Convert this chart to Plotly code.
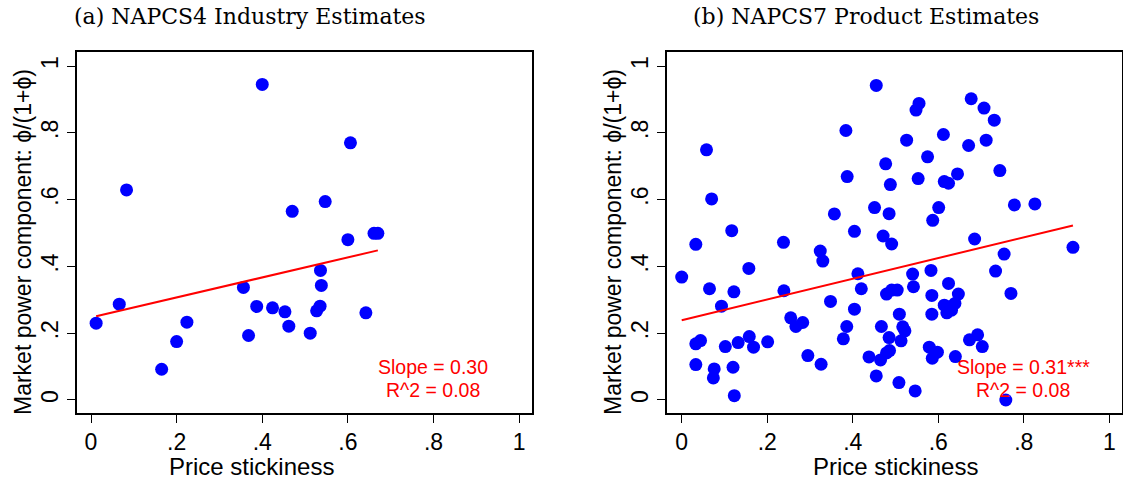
import plotly.graph_objects as go

# ---------------- data ----------------
# (a) NAPCS4 industry estimates
a_x = [0.012, 0.066, 0.083, 0.165, 0.200, 0.224, 0.356, 0.368, 0.387, 0.400,
       0.424, 0.453, 0.462, 0.470, 0.512, 0.536, 0.538, 0.535, 0.527, 0.642,
       0.600, 0.661, 0.670, 0.606, 0.547]
a_y = [0.230, 0.287, 0.629, 0.092, 0.175, 0.233, 0.337, 0.193, 0.280, 0.945,
       0.276, 0.264, 0.221, 0.565, 0.200, 0.388, 0.343, 0.281, 0.267, 0.261,
       0.480, 0.499, 0.499, 0.770, 0.594]
a_fit = {"intercept": 0.247, "slope": 0.30}
a_label = ["Slope = 0.30", "R^2 = 0.08"]

# (b) NAPCS7 product estimates
b_x = [0.455, 0.384, 0.058, 0.477, 0.387, 0.488, 0.070, 0.451, 0.357, 0.485,
       0.117, 0.404, 0.471, 0.033, 0.238,
       0.324, 0.330, 0.000, 0.157, 0.065, 0.122, 0.239, 0.093, 0.412, 0.420,
       0.348, 0.404, 0.479, 0.255, 0.267, 0.283, 0.386, 0.378, 0.467, 0.485,
       0.033, 0.044, 0.102, 0.132, 0.158, 0.168, 0.201, 0.033, 0.076, 0.074,
       0.120, 0.123, 0.295, 0.326, 0.438, 0.465, 0.455, 0.479,
       0.555, 0.548, 0.677, 0.707, 0.731, 0.526, 0.612, 0.671, 0.712, 0.575,
       0.553, 0.614, 0.624, 0.645, 0.744, 0.601, 0.587, 0.778, 0.826, 0.491,
       0.685, 0.915,
       0.754, 0.734, 0.540, 0.583, 0.542, 0.624, 0.491, 0.504, 0.585, 0.647,
       0.770, 0.614, 0.627, 0.639, 0.620, 0.631, 0.585, 0.509, 0.517, 0.522,
       0.513, 0.486, 0.673, 0.692, 0.703, 0.579, 0.598, 0.586, 0.640, 0.508,
       0.546, 0.758]
b_y = [0.942, 0.807, 0.749, 0.707, 0.669, 0.645, 0.602, 0.576, 0.557, 0.558,
       0.507, 0.505, 0.491, 0.466, 0.472,
       0.446, 0.416, 0.368, 0.394, 0.333, 0.324, 0.327, 0.281, 0.378, 0.333,
       0.295, 0.272, 0.317, 0.246, 0.220, 0.232, 0.220, 0.183, 0.220, 0.187,
       0.168, 0.178, 0.160, 0.172, 0.190, 0.158, 0.174, 0.106, 0.093, 0.066,
       0.098, 0.013, 0.133, 0.107, 0.129, 0.120, 0.072, 0.141,
       0.888, 0.868, 0.902, 0.874, 0.838, 0.778, 0.795, 0.762, 0.778, 0.728,
       0.663, 0.654, 0.649, 0.677, 0.687, 0.576, 0.538, 0.584, 0.587, 0.467,
       0.482, 0.457,
       0.437, 0.386, 0.377, 0.388, 0.339, 0.349, 0.329, 0.329, 0.313, 0.317,
       0.319, 0.284, 0.279, 0.289, 0.261, 0.269, 0.257, 0.257, 0.219, 0.207,
       0.177, 0.148, 0.180, 0.195, 0.160, 0.158, 0.143, 0.125, 0.130, 0.052,
       0.027, 0.000]
b_fit = {"intercept": 0.239, "slope": 0.31}
b_label = ["Slope = 0.31***", "R^2 = 0.08"]

titles = ["(a) NAPCS4 Industry Estimates", "(b) NAPCS7 Product Estimates"]
x_title = "Price stickiness"
y_title = "Market power component: \u03d5/(1+\u03d5)"
tick_vals = [0, 0.2, 0.4, 0.6, 0.8, 1]
tick_text = ["0", ".2", ".4", ".6", ".8", "1"]

# ---------------- figure ----------------
W, H = 1123, 481
BLUE = "#0000FF"
RED = "#FF0000"
SANS = "Liberation Sans, Arial, sans-serif"


def px_x(p):
    return p / W


def px_y(p):
    return 1 - p / H


fig = go.Figure()

panels = [
    (a_x, a_y, a_fit, "x", "y"),
    (b_x, b_y, b_fit, "x2", "y2"),
]
for xs, ys, fit, xa, ya in panels:
    fig.add_trace(go.Scatter(
        x=xs, y=ys, mode="markers", xaxis=xa, yaxis=ya,
        marker=dict(color=BLUE, size=13, line=dict(width=0)),
        showlegend=False, hoverinfo="x+y"))
    x0, x1 = min(xs), max(xs)
    fig.add_trace(go.Scatter(
        x=[x0, x1],
        y=[fit["intercept"] + fit["slope"] * x0, fit["intercept"] + fit["slope"] * x1],
        mode="lines", xaxis=xa, yaxis=ya,
        line=dict(color=RED, width=2), showlegend=False))

y_dom = [px_y(413), px_y(52)]
axis_common = dict(
    showline=True, linecolor="black", linewidth=1.5, mirror=True,
    ticks="outside", ticklen=8, tickwidth=1.3, tickcolor="black",
    showgrid=False, zeroline=False,
    tickvals=tick_vals, ticktext=tick_text,
    tickfont=dict(family=SANS, size=23, color="black"),
)

fig.update_layout(
    width=W, height=H,
    margin=dict(l=0, r=0, t=0, b=0),
    paper_bgcolor="white", plot_bgcolor="white",
    xaxis=dict(domain=[px_x(77), px_x(532)], range=[-0.0327, 1.030],
               anchor="y", **axis_common),
    yaxis=dict(domain=y_dom, range=[-0.039, 1.042], anchor="x",
               tickangle=-90, **axis_common),
    xaxis2=dict(domain=[px_x(667), px_x(1122)], range=[-0.0344, 1.0297],
                anchor="y2", **axis_common),
    yaxis2=dict(domain=y_dom, range=[-0.039, 1.042], anchor="x2",
                tickangle=-90, **axis_common),
)

annotations = []
# panel titles
for text, cx in zip(titles, [250, 866]):
    annotations.append(dict(
        text=text, x=px_x(cx), y=px_y(17), xref="paper", yref="paper",
        showarrow=False, xanchor="center", yanchor="middle",
        font=dict(family="DejaVu Serif, serif", size=22, color="black")))
# axis titles
for cx in [252, 895]:
    annotations.append(dict(
        text=x_title, x=px_x(cx), y=px_y(466), xref="paper", yref="paper",
        showarrow=False, xanchor="center", yanchor="middle",
        font=dict(family=SANS, size=24, color="black")))
for cx in [23, 613]:
    annotations.append(dict(
        text=y_title, x=px_x(cx), y=px_y(242), xref="paper", yref="paper",
        showarrow=False, xanchor="center", yanchor="middle", textangle=-90,
        font=dict(family=SANS, size=23, color="black")))
# fit statistics
for labels, cx in [(a_label, 433), (b_label, 1023)]:
    for lab, cy in zip(labels, [367, 390]):
        annotations.append(dict(
            text=lab, x=px_x(cx), y=px_y(cy), xref="paper", yref="paper",
            showarrow=False, xanchor="center", yanchor="middle",
            font=dict(family=SANS, size=19.5, color=RED)))

fig.update_layout(annotations=annotations)

fig.write_html("out.html")
